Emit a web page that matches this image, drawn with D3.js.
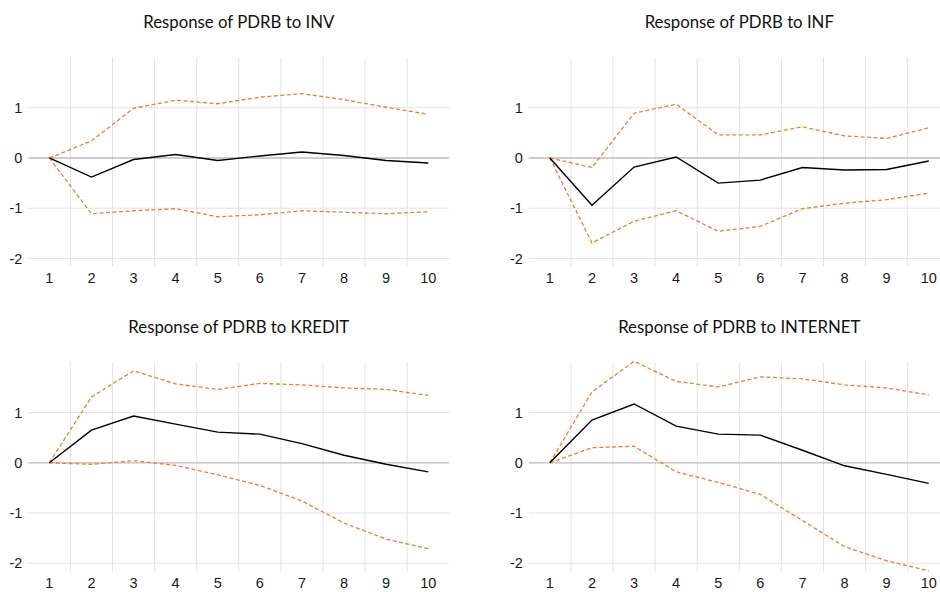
<!DOCTYPE html>
<html>
<head>
<meta charset="utf-8">
<script src="https://cdn.jsdelivr.net/npm/d3@7"></script>
<style>
  body { margin: 0; background: #fff; }
  svg { display: block; font-family: Lato, "Open Sans", sans-serif; }
</style>
</head>
<body>
<svg id="chart" width="940" height="592"></svg>
<script>
// periods on the x axis
var periods = [1, 2, 3, 4, 5, 6, 7, 8, 9, 10];
var yTicks = [-2, -1, 0, 1];

var titles = [
  "Response of PDRB to INV",
  "Response of PDRB to INF",
  "Response of PDRB to KREDIT",
  "Response of PDRB to INTERNET"
];

// impulse responses (black) and +/- 2 S.E. bands (orange dashed)
var invResp  = [0, -0.38, -0.03, 0.07, -0.05, 0.04, 0.12, 0.05, -0.05, -0.10];
var invUpper = [0, 0.34, 0.99, 1.15, 1.08, 1.21, 1.28, 1.16, 1.01, 0.87];
var invLower = [0, -1.11, -1.05, -1.01, -1.17, -1.13, -1.05, -1.08, -1.11, -1.07];

var infResp  = [0, -0.94, -0.18, 0.02, -0.50, -0.44, -0.19, -0.24, -0.23, -0.06];
var infUpper = [0, -0.19, 0.89, 1.07, 0.46, 0.46, 0.62, 0.44, 0.39, 0.60];
var infLower = [0, -1.69, -1.26, -1.05, -1.46, -1.36, -1.01, -0.90, -0.83, -0.70];

var kreditResp  = [0, 0.65, 0.93, 0.77, 0.61, 0.57, 0.38, 0.15, -0.03, -0.18];
var kreditUpper = [0, 1.31, 1.83, 1.57, 1.46, 1.58, 1.55, 1.49, 1.46, 1.34];
var kreditLower = [0, -0.03, 0.04, -0.05, -0.24, -0.45, -0.76, -1.20, -1.52, -1.71];

var internetResp  = [0, 0.85, 1.17, 0.73, 0.57, 0.55, 0.25, -0.06, -0.23, -0.41];
var internetUpper = [0, 1.41, 2.02, 1.62, 1.51, 1.71, 1.67, 1.55, 1.49, 1.35];
var internetLower = [0, 0.30, 0.33, -0.18, -0.39, -0.63, -1.15, -1.67, -1.95, -2.15];

var panels = [
  { title: titles[0], resp: invResp, upper: invUpper, lower: invLower, x0: 28.3, y0: 57.5 },
  { title: titles[1], resp: infResp, upper: infUpper, lower: infLower, x0: 528.8, y0: 57.5 },
  { title: titles[2], resp: kreditResp, upper: kreditUpper, lower: kreditLower, x0: 28.3, y0: 362.3 },
  { title: titles[3], resp: internetResp, upper: internetUpper, lower: internetLower, x0: 528.8, y0: 362.3 }
];

var svg = d3.select("#chart");
var plotW = 421, plotH = 209;

panels.forEach(function(p) {
  var g = svg.append("g").attr("transform", "translate(" + p.x0 + "," + p.y0 + ")");

  var x = d3.scaleBand().domain(periods).range([0, plotW]);
  var y = d3.scaleLinear().domain([-2.16, 2]).range([plotH, 0]);
  var cx = function(d) { return x(d) + x.bandwidth() / 2; };

  // vertical grid lines between categories
  g.append("g").selectAll("line")
    .data(periods.slice(1))
    .join("line")
      .attr("x1", d => x(d)).attr("x2", d => x(d))
      .attr("y1", 0).attr("y2", plotH)
      .attr("stroke", "#e3e3e3").attr("stroke-width", 1);

  // horizontal grid lines
  g.append("g").selectAll("line")
    .data(yTicks)
    .join("line")
      .attr("x1", 0).attr("x2", plotW)
      .attr("y1", d => y(d)).attr("y2", d => y(d))
      .attr("stroke", d => d === 0 ? "#bcbcbc" : "#e3e3e3")
      .attr("stroke-width", d => d === 0 ? 1.3 : 1);

  // y labels
  var yAxis = d3.axisLeft(y).tickValues(yTicks).tickSize(0).tickPadding(6)
    .tickFormat(d => String(d));
  g.append("g").call(yAxis)
    .call(a => a.select(".domain").remove())
    .selectAll("text").attr("font-size", 14.5).attr("fill", "#1a1a1a");

  // x labels
  var xAxis = d3.axisBottom(x).tickSize(0).tickPadding(6);
  g.append("g").attr("transform", "translate(0," + plotH + ")").call(xAxis)
    .call(a => a.select(".domain").remove())
    .selectAll("text").attr("font-size", 14.5).attr("fill", "#1a1a1a");

  var line = d3.line().x((d, i) => cx(periods[i])).y(d => y(d));

  [p.upper, p.lower].forEach(function(s) {
    g.append("path").datum(s)
      .attr("d", line)
      .attr("fill", "none")
      .attr("stroke", "#ed7d31")
      .attr("stroke-width", 1.3)
      .attr("stroke-dasharray", "4,2.5");
  });

  g.append("path").datum(p.resp)
    .attr("d", line)
    .attr("fill", "none")
    .attr("stroke", "#000")
    .attr("stroke-width", 1.4);

  // title
  svg.append("text")
    .attr("x", p.x0 + plotW / 2)
    .attr("y", p.y0 - 29.5)
    .attr("text-anchor", "middle")
    .attr("font-size", 16.8)
    .attr("fill", "#111")
    .text(p.title);
});
</script>
</body>
</html>
